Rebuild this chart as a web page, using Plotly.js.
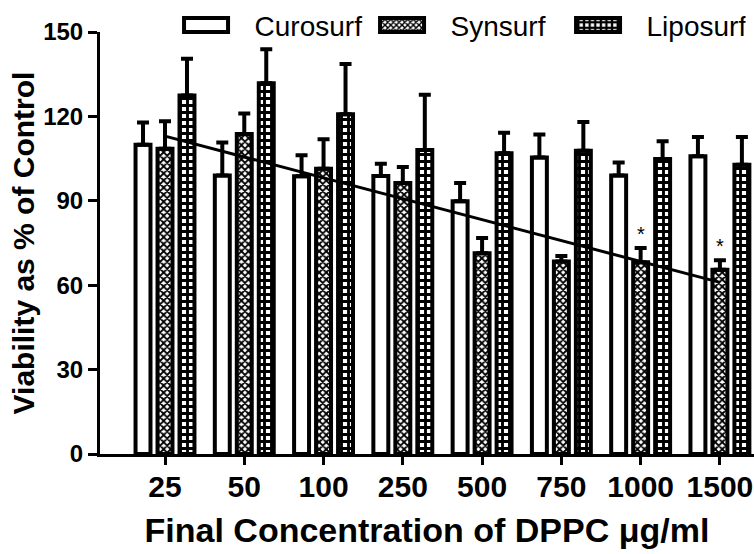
<!DOCTYPE html>
<html>
<head>
<meta charset="utf-8">
<script src="https://cdn.plot.ly/plotly-3.0.1.min.js"></script>
<style>html,body{margin:0;padding:0;background:#fff;}#chart{width:754px;height:554px;}</style>
</head>
<body>
<div id="chart"></div>
<script>
const categories = ["25", "50", "100", "250", "500", "750", "1000", "1500"];
const curosurf = [109.9, 99.0, 98.7, 98.8, 89.8, 105.4, 99.0, 105.8];
const curosurfErr = [7.9, 11.7, 7.5, 4.4, 6.5, 8.2, 4.6, 6.9];
const synsurf = [108.5, 113.7, 101.4, 96.3, 71.4, 68.4, 68.2, 65.5];
const synsurfErr = [9.8, 7.3, 10.5, 5.7, 5.4, 2.0, 5.0, 3.4];
const liposurf = [127.4, 131.8, 120.8, 108.1, 106.9, 107.8, 104.9, 102.8];
const liposurfErr = [13.1, 12.1, 17.8, 19.6, 7.3, 10.2, 6.3, 9.9];
const trendX = ["25", "1500"];
const trendY = [113, 61];
const starCats = ["1000", "1500"];
const yTicks = [0, 30, 60, 90, 120, 150];

const FONT = "Liberation Sans, Arial, Helvetica, sans-serif";
const zeros = categories.map(() => 0);

function errBar(arr) {
  return {type: "data", symmetric: false, array: arr, arrayminus: zeros,
          color: "#000", thickness: 4, width: 6};
}

const traces = [
  {type: "bar", name: "Curosurf", x: categories, y: curosurf,
   marker: {color: "#fff", line: {color: "#000", width: 4}},
   error_y: errBar(curosurfErr)},
  {type: "bar", name: "Synsurf", x: categories, y: synsurf,
   marker: {color: "#fff", line: {color: "#000", width: 4},
            pattern: {shape: "x", fgcolor: "#000", bgcolor: "#fff", size: 5, solidity: 0.6}},
   error_y: errBar(synsurfErr)},
  {type: "bar", name: "Liposurf", x: categories, y: liposurf,
   marker: {color: "#000", line: {color: "#000", width: 4},
            pattern: {shape: "+", fgcolor: "#000", bgcolor: "#fff", size: 7, solidity: 0.65}},
   error_y: errBar(liposurfErr)},
  {type: "scatter", mode: "lines", x: trendX, y: trendY, showlegend: false,
   line: {color: "#000", width: 3}, hoverinfo: "skip"}
];

const annotations = starCats.map(c => {
  const i = categories.indexOf(c);
  return {x: i, y: synsurf[i] + synsurfErr[i], xref: "x", yref: "y",
          text: "*", showarrow: false, yanchor: "bottom", yshift: 1,
          font: {family: FONT, size: 20, color: "#000"}};
});

const layout = {
  width: 754, height: 554,
  margin: {l: 100, r: 0, t: 32, b: 100, pad: 0},
  paper_bgcolor: "#fff", plot_bgcolor: "#fff",
  barmode: "group", bargap: 0.168, bargroupgap: 0.32,
  font: {family: FONT, color: "#000"},
  showlegend: true,
  legend: {orientation: "h", x: 0.088, y: 1.075, xanchor: "left", yanchor: "top",
           font: {family: FONT, size: 28, color: "#000"}, bgcolor: "rgba(0,0,0,0)",
           traceorder: "normal", itemwidth: 87, entrywidth: 94, entrywidthmode: "pixels"},
  xaxis: {type: "category", range: [-0.82, 7.43], showgrid: false, zeroline: false,
          showline: true, linewidth: 3, linecolor: "#000",
          ticks: "outside", ticklen: 8, tickwidth: 3, tickcolor: "#000",
          ticklabelstandoff: -4,
          tickfont: {family: FONT, size: 30, color: "#000", weight: "bold"},
          title: {text: "Final Concentration of DPPC μg/ml", standoff: 17,
                  font: {family: FONT, size: 34, color: "#000", weight: "bold"}}},
  yaxis: {range: [0, 150], tickvals: yTicks, showgrid: false, zeroline: false,
          showline: true, linewidth: 3, linecolor: "#000",
          ticks: "outside", ticklen: 9, tickwidth: 3, tickcolor: "#000",
          tickfont: {family: FONT, size: 24, color: "#000", weight: "bold"},
          title: {text: "Viability as % of Control", standoff: 0,
                  font: {family: FONT, size: 30, color: "#000", weight: "bold"}}},
  annotations: annotations
};

Plotly.newPlot("chart", traces, layout, {displayModeBar: false, staticPlot: true}).then(gd => {
  gd.querySelectorAll(".legend .legendpoints path").forEach(p => {
    p.setAttribute("d", "M22,7H-22V-7H22Z");
  });
});
</script>
</body>
</html>
